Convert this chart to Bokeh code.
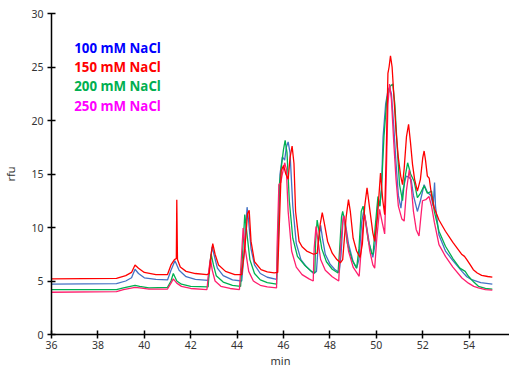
from bokeh.plotting import figure
from bokeh.models import Label, FixedTicker, Range1d
from bokeh.embed import file_html
from bokeh.resources import INLINE

# ---- data ----
t_red = [36.0, 38.8, 39.2, 39.45, 39.6, 39.75, 40.0, 40.5, 41.0, 41.15, 41.3, 41.38, 41.40, 41.43, 41.55, 41.8,
         42.2, 42.7, 42.8, 42.88, 42.95, 43.05, 43.2, 43.5, 43.9, 44.2, 44.35, 44.45, 44.52, 44.6, 44.75, 45.03,
         45.3, 45.6, 45.75, 45.8, 45.9, 46.0, 46.1, 46.2, 46.28, 46.37, 46.45, 46.52, 46.67, 46.8, 47.0, 47.3,
         47.45, 47.58, 47.67, 47.75, 47.9, 48.1, 48.3, 48.45, 48.55, 48.7, 48.8, 48.88, 49.0, 49.15, 49.3, 49.4,
         49.5, 49.6, 49.7, 49.85, 49.93, 50.05, 50.18, 50.28, 50.36, 50.43, 50.5, 50.55, 50.61, 50.68, 50.75,
         50.85, 50.95, 51.05, 51.13, 51.2, 51.3, 51.39, 51.47, 51.56, 51.65, 51.77, 51.9, 52.0, 52.06, 52.12,
         52.2, 52.28, 52.38, 52.5, 52.7, 52.98, 53.3, 53.69, 53.8, 53.9, 54.05, 54.18, 54.35, 54.54, 54.8, 55.0]
v_red = [5.2, 5.25, 5.5, 5.8, 6.5, 6.2, 5.8, 5.6, 5.6, 6.5, 7.0, 7.1, 12.6, 7.0, 6.3, 5.9,
         5.7, 5.6, 5.7, 7.5, 8.5, 7.5, 6.5, 5.9, 5.6, 5.6, 8.5, 11.3, 11.6, 8.7, 6.8, 6.06,
         5.85, 5.75, 5.8, 9.0, 15.3, 15.8, 15.0, 14.5, 16.5, 17.6, 16.0, 11.5, 8.7, 8.2, 7.8, 7.5,
         7.6, 10.3, 11.4, 10.5, 8.7, 7.6, 7.0, 6.7, 7.0, 11.0, 12.6, 11.5, 9.0, 7.8, 7.2, 8.5,
         12.0, 13.7, 12.0, 9.5, 8.7, 11.0, 15.1, 12.5, 11.2, 17.2, 24.4, 25.0, 26.05, 25.0, 22.5,
         19.0, 16.5, 14.8, 14.0, 15.5, 18.5, 19.65, 18.0, 15.9, 14.5, 13.4, 14.5, 16.5, 17.15, 16.3,
         14.8, 14.6, 13.0, 11.8, 10.7, 9.65, 8.6, 7.47, 7.3, 7.0, 6.5, 6.06, 5.75, 5.53, 5.42, 5.37]

t_blue = [36.0, 38.8, 39.2, 39.45, 39.6, 39.75, 40.0, 40.5, 41.0, 41.15, 41.32, 41.5, 41.8, 42.2, 42.75, 42.83,
          42.92, 43.0, 43.15, 43.4, 43.8, 44.2, 44.3, 44.43, 44.5, 44.6, 44.75, 45.0, 45.3, 45.7, 45.78, 45.85,
          45.95, 46.05, 46.12, 46.2, 46.28, 46.4, 46.55, 46.75, 47.0, 47.3, 47.42, 47.5, 47.6, 47.68, 47.8, 48.0,
          48.2, 48.4, 48.48, 48.58, 48.66, 48.8, 49.0, 49.15, 49.25, 49.37, 49.45, 49.55, 49.7, 49.85, 49.95,
          50.07, 50.15, 50.22, 50.29, 50.4, 50.5, 50.57, 50.65, 50.75, 50.85, 50.95, 51.06, 51.15, 51.28, 51.4,
          51.5, 51.6, 51.77, 51.9, 52.06, 52.2, 52.35, 52.45, 52.51, 52.55, 52.7, 52.98, 53.3, 53.69, 53.9,
          54.11, 54.5, 55.0]
v_blue = [4.7, 4.75, 5.0, 5.3, 6.1, 5.7, 5.3, 5.15, 5.1, 6.0, 6.9, 6.0, 5.4, 5.15, 5.05, 6.5,
          8.2, 7.5, 6.2, 5.5, 5.1, 5.0, 7.5, 11.9, 10.5, 8.0, 6.5, 5.7, 5.35, 5.15, 9.0, 15.0,
          16.6, 16.3, 17.5, 18.0, 17.0, 12.0, 8.5, 7.0, 6.3, 5.7, 5.9, 8.5, 10.2, 9.0, 7.5, 6.6,
          6.1, 5.8, 7.5, 11.2, 10.5, 8.5, 6.8, 6.2, 7.0, 10.5, 11.5, 10.5, 8.5, 7.2, 8.5,
          12.5, 12.0, 13.5, 18.4, 21.5, 22.8, 23.1, 22.5, 19.5, 16.0, 13.0, 11.8, 13.5, 14.8, 14.7,
          14.5, 13.0, 11.5, 12.5, 14.0, 13.3, 13.0, 12.0, 14.2, 12.0, 9.3, 7.8, 6.9, 5.9, 5.4,
          5.12, 4.85, 4.7]

t_green = [36.0, 38.8, 39.1, 39.6, 39.8, 40.2, 41.0, 41.15, 41.25, 41.4, 41.6, 42.0, 42.75, 42.82, 42.88, 42.98,
           43.1, 43.4, 43.8, 44.15, 44.22, 44.33, 44.42, 44.55, 44.75, 45.0, 45.3, 45.7, 45.75, 45.82, 45.93,
           46.0, 46.07, 46.15, 46.25, 46.4, 46.6, 46.9, 47.2, 47.35, 47.38, 47.45, 47.52, 47.65, 47.85, 48.1,
           48.35, 48.42, 48.5, 48.55, 48.62, 48.75, 48.95, 49.15, 49.25, 49.35, 49.43, 49.52, 49.65, 49.8,
           49.86, 49.95, 50.07, 50.15, 50.22, 50.33, 50.45, 50.6, 50.71, 50.8, 50.9, 51.0, 51.13, 51.22, 51.35,
           51.48, 51.63, 51.77, 51.9, 52.06, 52.2, 52.3, 52.38, 52.5, 52.7, 52.98, 53.3, 53.6, 53.83, 53.97,
           54.2, 54.4, 54.7, 55.0]
v_green = [4.2, 4.2, 4.35, 4.6, 4.5, 4.35, 4.4, 5.0, 5.7, 5.0, 4.7, 4.5, 4.45, 6.5, 7.5, 6.5,
           5.5, 4.9, 4.6, 4.5, 7.0, 11.2, 9.5, 7.0, 5.7, 5.1, 4.85, 4.7, 8.0, 14.0, 16.1,
           17.3, 18.15, 17.0, 12.5, 9.0, 7.3, 6.5, 5.9, 5.75, 8.5, 10.7, 9.8, 8.0, 6.8, 6.1,
           5.75, 8.0, 11.0, 11.5, 10.8, 8.5, 7.0, 6.2, 8.0, 11.5, 12.0, 10.8, 8.8, 7.6,
           7.5, 10.0, 12.9, 12.0, 13.5, 18.5, 22.0, 23.2, 23.4, 21.5, 17.5, 14.0, 12.5, 14.5, 16.05,
           15.0, 14.3, 12.8, 13.2, 13.9, 13.2, 13.3, 13.4, 11.5, 9.65, 8.25, 7.1, 6.2, 5.9, 5.44,
           4.9, 4.5, 4.3, 4.25]

t_pink = [36.0, 38.8, 39.1, 39.6, 39.8, 40.2, 41.0, 41.15, 41.25, 41.4, 41.6, 42.0, 42.7, 42.78, 42.85, 42.93,
          43.05, 43.3, 43.7, 44.1, 44.18, 44.26, 44.35, 44.5, 44.7, 45.0, 45.3, 45.7, 45.72, 45.8, 45.88,
          45.95, 46.05, 46.12, 46.2, 46.35, 46.55, 46.8, 47.1, 47.28, 47.32, 47.4, 47.47, 47.6, 47.8, 48.1,
          48.38, 48.45, 48.55, 48.6, 48.68, 48.8, 49.0, 49.26, 49.35, 49.45, 49.5, 49.58, 49.72, 49.85,
          49.93, 50.02, 50.14, 50.25, 50.36, 50.42, 50.5, 50.57, 50.65, 50.75, 50.85, 50.95, 51.1, 51.2,
          51.3, 51.42, 51.5, 51.6, 51.72, 51.84, 51.92, 51.99, 52.13, 52.27, 52.38, 52.5, 52.7, 52.98,
          53.3, 53.69, 53.97, 54.2, 54.4, 54.7, 55.0]
v_pink = [3.95, 4.0, 4.2, 4.4, 4.35, 4.25, 4.25, 4.8, 5.2, 4.8, 4.5, 4.3, 4.2, 6.0, 7.1, 6.0,
          5.0, 4.5, 4.3, 4.2, 7.0, 9.96, 8.0, 5.9, 5.0, 4.6, 4.45, 4.35, 8.0, 14.0, 14.2,
          15.0, 16.05, 15.5, 11.5, 7.8, 6.3, 5.6, 5.2, 5.0, 8.0, 10.1, 9.0, 7.0, 6.0, 5.4,
          5.0, 8.0, 10.5, 11.06, 10.0, 7.8, 6.3, 5.44, 8.0, 10.8, 11.2, 10.0, 7.8, 6.5,
          6.2, 9.0, 11.7, 10.5, 9.4, 14.0, 21.5, 23.4, 22.0, 18.0, 14.5, 12.0, 10.8, 10.6,
          13.5, 15.4, 14.0, 11.5, 9.8, 9.2, 11.0, 12.5, 12.6, 12.9, 12.0, 10.5, 8.4, 7.3,
          6.3, 5.28, 4.8, 4.5, 4.35, 4.2, 4.15]

series_names = ["100 mM NaCl", "150 mM NaCl", "200 mM NaCl", "250 mM NaCl"]
label_colors = ["#0000FF", "#FF0000", "#00B050", "#FF00FF"]
x_ticks = [36, 38, 40, 42, 44, 46, 48, 50, 52, 54, 56]
y_ticks = [0, 5, 10, 15, 20, 25, 30]

p = figure(width=509, height=370, output_backend="svg", toolbar_location=None,
           x_range=Range1d(36, 55.74), y_range=Range1d(0, 30),
           min_border_left=45, min_border_right=0, min_border_top=13, min_border_bottom=22)
p.outline_line_color = None
p.background_fill_color = "white"
p.border_fill_color = "white"
p.xgrid.grid_line_color = None
p.ygrid.grid_line_color = None

for ax in (p.xaxis[0], p.yaxis[0]):
    ax.axis_line_color = "black"
    ax.axis_line_width = 1.5
    ax.major_tick_line_color = "black"
    ax.major_tick_line_width = 1.5
    ax.major_tick_in = 4
    ax.major_tick_out = 4
    ax.minor_tick_line_color = None
    ax.major_label_text_font = "Noto Sans"
    ax.major_label_text_font_size = "10.5px"
    ax.major_label_text_color = "#333333"
    ax.major_label_standoff = 4
    ax.axis_label_text_font = "Noto Sans"
    ax.axis_label_text_font_size = "11px"
    ax.axis_label_text_font_style = "normal"
    ax.axis_label_text_color = "#333333"

p.xaxis.ticker = FixedTicker(ticks=x_ticks)
p.yaxis.ticker = FixedTicker(ticks=y_ticks)
p.yaxis.axis_label = "rfu"
p.yaxis.axis_label_standoff = 10
p.xaxis.axis_label = "min"
p.xaxis.axis_label_standoff = 1
p.xaxis.major_label_standoff = 2

p.line(t_blue, v_blue, line_color="#4472C4", line_width=1.3)
p.line(t_green, v_green, line_color="#00B050", line_width=1.3)
p.line(t_pink, v_pink, line_color="#FF1F6E", line_width=1.3)
p.line(t_red, v_red, line_color="#FF0000", line_width=1.3)

label_y = [26.8, 25.0, 23.2, 21.4]
for name, col, yy in zip(series_names, label_colors, label_y):
    p.add_layout(Label(x=36.98, y=yy, text=name, text_color=col, text_font="Open Sans",
                       text_font_size="13.3px", text_font_style="bold", text_baseline="middle"))

open("out.html", "w").write(file_html(p, INLINE))
